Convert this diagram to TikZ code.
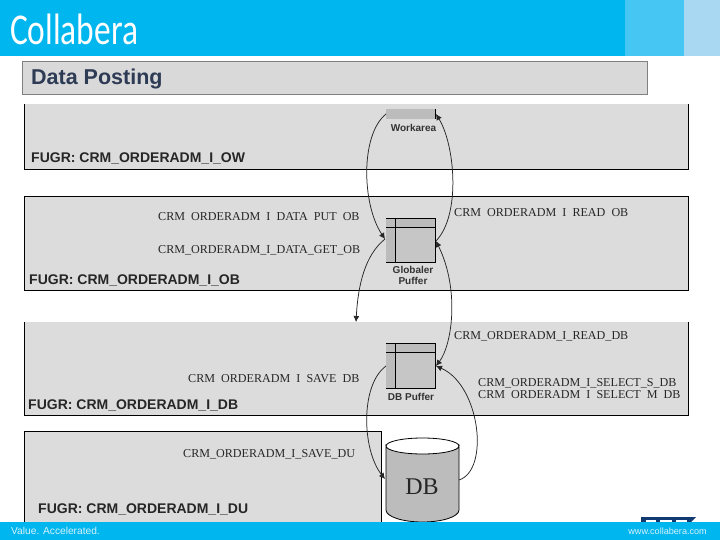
\documentclass[tikz,border=0pt]{standalone}
\usepackage{fontspec}
\setmainfont{Liberation Serif}
\setsansfont{Liberation Sans}
\newfontfamily\logofont{Carlito}
\usepackage{xcolor}
\usetikzlibrary{arrows.meta}
\definecolor{headblue}{HTML}{00B6EF}
\definecolor{headmid}{HTML}{45C6F3}
\definecolor{headpale}{HTML}{A9D8F3}
\definecolor{titlegray}{HTML}{D9D9D9}
\definecolor{titleink}{HTML}{2D3B55}
\definecolor{panelgray}{HTML}{DCDCDC}
\definecolor{storegray}{HTML}{BCBCBC}
\definecolor{cellgray}{HTML}{C6C6C6}
\definecolor{footink}{HTML}{D8F2FB}
\definecolor{sapblue}{HTML}{123A72}
\newcommand{\gap}{\hspace{.5em}}
\tikzset{call/.style = {anchor=base west, font=\rmfamily\fontsize{12.1}{12}\selectfont, text=black!85, inner sep=0}}
\tikzset{fugr/.style = {anchor=base west, font=\sffamily\bfseries\fontsize{14}{14}\selectfont, text=black!85, inner sep=0}}
\tikzset{store/.style = {font=\sffamily\bfseries\fontsize{10}{11}\selectfont, text=black!80, inner sep=0, align=center}}
\tikzset{foot/.style = {anchor=base west, font=\sffamily\fontsize{10.2}{10.2}\selectfont, text=footink, inner sep=0}}
\tikzset{link/.style = {black!85, line width=0.75pt, -{Latex[length=6pt,width=6pt]}}}
\tikzset{grid/.style = {black, line width=0.8pt}}

\begin{document}
\begin{tikzpicture}[x=1pt,y=-1pt]
    \useasboundingbox (0,0) rectangle (720,540);

    % panels
    \fill[panelgray] (24,104) rectangle (688,169);
    \draw[black] (24,104) -- (24,169) -- (688,169) -- (688,104);
    \filldraw[fill=panelgray,draw=black] (24,196) rectangle (688,290);
    \fill[panelgray] (24,322) rectangle (688,415);
    \draw[black] (24,322) -- (24,415) -- (688,415) -- (688,322);
    \filldraw[fill=panelgray,draw=black] (24,431) rectangle (381,530);

    % stores
    \fill[storegray] (386,109) rectangle (435,119);
    \draw[grid] (435,109) -- (435,119);
    \node[store] (workarea) at (413.5,128) {Workarea};

    \fill[storegray] (386,218) rectangle (435,262);
    \fill[cellgray] (395,227) rectangle (435,262);
    \draw[grid] (386,218) -- (435,218) -- (435,262) -- (386,262);
    \draw[grid] (386,227) -- (435,227);
    \draw[grid] (395,218) -- (395,262);
    \node[store] (globaler) at (413,275) {Globaler\\Puffer};

    \fill[storegray] (386,343) rectangle (435,388);
    \fill[cellgray] (395,352) rectangle (435,388);
    \draw[grid] (386,343) -- (435,343) -- (435,388) -- (386,388);
    \draw[grid] (386,352) -- (435,352);
    \draw[grid] (395,343) -- (395,388);
    \node[store] (dbpuffer) at (411,397) {DB Puffer};

    \filldraw[fill=storegray,draw=black,line width=0.8pt] (386,446) arc[start angle=180, end angle=0, x radius=36.5, y radius=8] -- (459,510) arc[start angle=0, end angle=180, x radius=36.5, y radius=12] -- cycle;
    \draw[black,line width=0.8pt] (386,446) arc[start angle=180, end angle=360, x radius=36.5, y radius=8];
    \node[font=\rmfamily\fontsize{24}{24}\selectfont, text=black!85, inner sep=0] (db) at (422,487) {DB};

    % links
    \coordinate (workareaW) at (386,114);
    \coordinate (workareaE) at (436,114);
    \coordinate (globalerW) at (385,239);
    \coordinate (globalerE) at (436,241);
    \coordinate (dbpufferW) at (386,366);
    \coordinate (dbpufferE) at (436,366);
    \coordinate (cylW) at (385,479);
    \coordinate (cylE) at (459,480);
    \coordinate (loose) at (356,322);
    \draw[link] (workareaW) .. controls (360,135) and (362,205) .. (globalerW);
    \draw[link] (globalerE) .. controls (461,215) and (455,145) .. (workareaE);
    \draw[link] (globalerW) .. controls (365,255) and (358,285) .. (loose);
    \draw[link,{Latex[length=6pt,width=6pt]}-{Latex[length=6pt,width=6pt]}] (dbpufferE) .. controls (452,345) and (460,290) .. (globalerE);
    \draw[link] (dbpufferW) .. controls (360,385) and (362,450) .. (cylW);
    \draw[link] (cylE) .. controls (490,470) and (480,385) .. (dbpufferE);

    % labels
    \node[fugr] (ow) at (31,163) {FUGR: CRM\_ORDERADM\_I\_OW};
    \node[call] (put) at (158,221) {CRM\gap ORDERADM\gap I\gap DATA\gap PUT\gap OB};
    \node[call] (get) at (158,254) {CRM\_ORDERADM\_I\_DATA\_GET\_OB};
    \node[call] (readob) at (454,216) {CRM\gap ORDERADM\gap I\gap READ\gap OB};
    \node[fugr] (ob) at (29,284) {FUGR: CRM\_ORDERADM\_I\_OB};
    \node[call] (readdb) at (454,339) {CRM\_ORDERADM\_I\_READ\_DB};
    \node[call] (savedb) at (188,382) {CRM\gap ORDERADM\gap I\gap SAVE\gap DB};
    \node[call] (selects) at (478,386) {CRM\_ORDERADM\_I\_SELECT\_S\_DB};
    \node[call] (selectm) at (478,398) {CRM\gap ORDERADM\gap I\gap SELECT\gap M\gap DB};
    \node[fugr] (dbgroup) at (28,409) {FUGR: CRM\_ORDERADM\_I\_DB};
    \node[call] (savedu) at (183,457) {CRM\_ORDERADM\_I\_SAVE\_DU};
    \node[fugr] (du) at (38,513) {FUGR: CRM\_ORDERADM\_I\_DU};

    % slide frame
    \fill[headblue] (0,0) rectangle (625,56);
    \fill[headmid] (625,0) rectangle (684,56);
    \fill[headpale] (684,0) rectangle (720,56);
    \node[anchor=base west, inner sep=0, text=white, xscale=0.76, font=\logofont\fontsize{44}{44}\selectfont] (logo) at (10,45) {Collabera};
    \filldraw[fill=titlegray,draw=black!50,line width=0.8pt] (22,61) rectangle (647,94);
    \node[anchor=base west, inner sep=0, text=titleink, font=\sffamily\bfseries\fontsize{21.5}{21.5}\selectfont] (title) at (31,85) {Data Posting};
    \fill[sapblue] (641,517) -- (696,517) -- (691,522) -- (641,522) -- cycle;
    \fill[white] (646,520) rectangle (656,522);
    \fill[white] (660,520) rectangle (672,522);
    \fill[white] (676,520) rectangle (687,522);
    \fill[headblue] (0,522) rectangle (720,540);
    \node[foot] (slogan) at (11,534) {Value. Accelerated.};
    \node[foot,anchor=base east,font=\sffamily\fontsize{9.1}{9.1}\selectfont] (web) at (707,534) {www.collabera.com};
\end{tikzpicture}
\end{document}
